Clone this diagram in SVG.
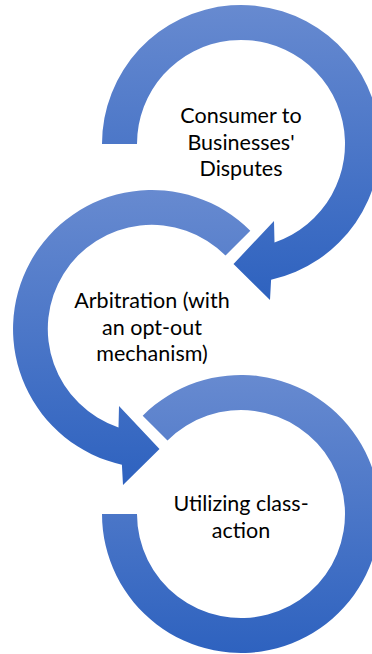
<svg xmlns="http://www.w3.org/2000/svg" width="372" height="654" viewBox="0 0 372 654">
<defs>
<linearGradient id="g" x1="0" y1="0" x2="0" y2="1">
<stop offset="0" stop-color="#678AD0"/>
<stop offset="1" stop-color="#2E62BF"/>
</linearGradient>
<style>
.ring{fill:url(#g);stroke:none}
.lbl{font-family:Lato,"Open Sans","Liberation Sans",sans-serif;font-size:21.5px;fill:#000;text-anchor:middle}
</style>
</defs>
<rect width="372" height="654" fill="#fff"/>
<g id="node1">
<path class="ring" d="M102,144 A139,139 0 1 1 271.1,279.7 L270,300 L233.5,264 L274,221 L274.5,242.4 A104,104 0 1 0 137,144 Z"/>
<text class="lbl" x="241" y="123">Consumer to</text>
<text class="lbl" x="241" y="149.5">Businesses'</text>
<text class="lbl" x="241" y="176">Disputes</text>
</g>
<g id="node2">
<path class="ring" d="M250.3,230.7 A139,139 0 1 0 121.9,464.7 L123,485 L159.5,449 L119,406 L118.5,427.4 A104,104 0 1 1 225.5,255.5 Z"/>
<text class="lbl" x="152" y="308">Arbitration (with</text>
<text class="lbl" x="152" y="334.5">an opt-out</text>
<text class="lbl" x="152" y="361">mechanism)</text>
</g>
<g id="node3">
<path class="ring" d="M142.7,415.7 A139,139 0 1 1 102,514 L137,514 A104,104 0 1 0 167.5,440.5 Z"/>
<text class="lbl" x="241" y="511">Utilizing class-</text>
<text class="lbl" x="241" y="537.5">action</text>
</g>
</svg>
